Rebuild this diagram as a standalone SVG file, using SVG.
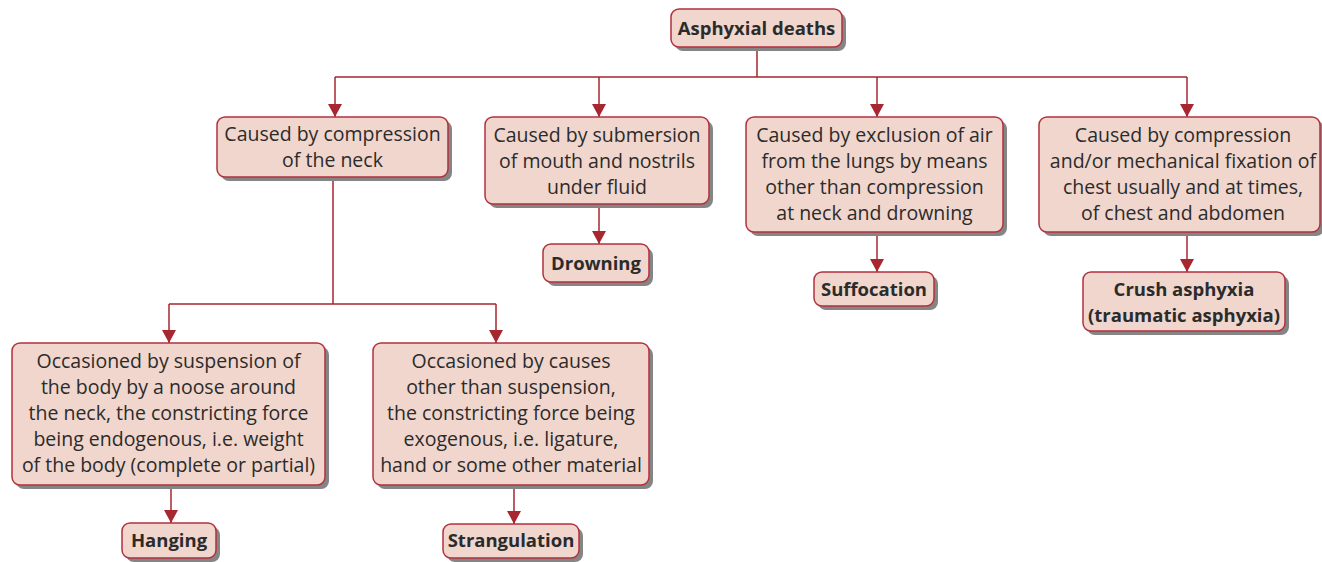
<svg xmlns="http://www.w3.org/2000/svg" width="1322" height="562" viewBox="0 0 1322 562">
<defs>
<style>
.box{fill:#f0d6cc;stroke:#b2313f;stroke-width:1.5}
.sh{fill:#858585}
.t{font-family:"Open Sans","Liberation Sans",sans-serif;font-size:19.5px;fill:#2b2b2b;text-anchor:middle}
.b{font-weight:bold;font-size:18.5px}
.c{fill:none;stroke:#a8262f;stroke-width:1.5}
</style>
<marker id="ad" markerUnits="userSpaceOnUse" markerWidth="16" markerHeight="14" viewBox="0 0 16 14" refX="13" refY="7" orient="auto">
<path d="M0,0 L13,7 L0,14 Z" fill="#a8262f"/>
</marker>
</defs>
<rect width="1322" height="562" fill="#ffffff"/>
<g id="connectors">
<path class="c" d="M757,47 V77 M335,77 H1187"/>
<path class="c" d="M335,77 V117" marker-end="url(#ad)"/>
<path class="c" d="M599,77 V117" marker-end="url(#ad)"/>
<path class="c" d="M877,77 V117" marker-end="url(#ad)"/>
<path class="c" d="M1187,77 V117" marker-end="url(#ad)"/>
<path class="c" d="M333,177 V304 M169,304 H496"/>
<path class="c" d="M169,304 V343" marker-end="url(#ad)"/>
<path class="c" d="M496,304 V343" marker-end="url(#ad)"/>
<path class="c" d="M599,204 V244" marker-end="url(#ad)"/>
<path class="c" d="M877,232 V272" marker-end="url(#ad)"/>
<path class="c" d="M1187,232 V272" marker-end="url(#ad)"/>
<path class="c" d="M171,485 V523" marker-end="url(#ad)"/>
<path class="c" d="M514,485 V524" marker-end="url(#ad)"/>
</g>
<g id="root">
<rect class="sh" x="675" y="13" width="171" height="38" rx="8"/>
<rect class="box" x="671" y="9" width="171" height="38" rx="8"/>
<text class="t b" x="756.5" y="35">Asphyxial deaths</text>
</g>
<g id="neck">
<rect class="sh" x="221" y="121" width="231" height="60" rx="8"/>
<rect class="box" x="217" y="117" width="231" height="60" rx="8"/>
<text class="t" x="332.5" y="141">Caused by compression</text>
<text class="t" x="332.5" y="167">of the neck</text>
</g>
<g id="submersion">
<rect class="sh" x="489" y="121" width="224" height="87" rx="8"/>
<rect class="box" x="485" y="117" width="224" height="87" rx="8"/>
<text class="t" x="597" y="141.5">Caused by submersion</text>
<text class="t" x="597" y="167.5">of mouth and nostrils</text>
<text class="t" x="597" y="193.5">under fluid</text>
</g>
<g id="exclusion">
<rect class="sh" x="750" y="121" width="257" height="115" rx="8"/>
<rect class="box" x="746" y="117" width="257" height="115" rx="8"/>
<text class="t" x="874.5" y="142">Caused by exclusion of air</text>
<text class="t" x="874.5" y="168">from the lungs by means</text>
<text class="t" x="874.5" y="194">other than compression</text>
<text class="t" x="874.5" y="220">at neck and drowning</text>
</g>
<g id="chest">
<rect class="sh" x="1043" y="121" width="281" height="115" rx="8"/>
<rect class="box" x="1039" y="117" width="281" height="115" rx="8"/>
<text class="t" x="1183" y="142">Caused by compression</text>
<text class="t" x="1183" y="168">and/or mechanical fixation of</text>
<text class="t" x="1183" y="194">chest usually and at times,</text>
<text class="t" x="1183" y="220">of chest and abdomen</text>
</g>
<g id="drowning">
<rect class="sh" x="547" y="248" width="106" height="38" rx="8"/>
<rect class="box" x="543" y="244" width="106" height="38" rx="8"/>
<text class="t b" x="596" y="270">Drowning</text>
</g>
<g id="suffocation">
<rect class="sh" x="818" y="276" width="120" height="34" rx="8"/>
<rect class="box" x="814" y="272" width="120" height="34" rx="8"/>
<text class="t b" x="874" y="296">Suffocation</text>
</g>
<g id="crush">
<rect class="sh" x="1087" y="276" width="202" height="59" rx="8"/>
<rect class="box" x="1083" y="272" width="202" height="59" rx="8"/>
<text class="t b" x="1184" y="296">Crush asphyxia</text>
<text class="t b" x="1184" y="322">(traumatic asphyxia)</text>
</g>
<g id="suspension">
<rect class="sh" x="16" y="347" width="313" height="142" rx="8"/>
<rect class="box" x="12" y="343" width="313" height="142" rx="8"/>
<text class="t" x="168.5" y="368">Occasioned by suspension of</text>
<text class="t" x="168.5" y="394">the body by a noose around</text>
<text class="t" x="168.5" y="420">the neck, the constricting force</text>
<text class="t" x="168.5" y="446">being endogenous, i.e. weight</text>
<text class="t" x="168.5" y="472">of the body (complete or partial)</text>
</g>
<g id="other">
<rect class="sh" x="377" y="347" width="276" height="142" rx="8"/>
<rect class="box" x="373" y="343" width="276" height="142" rx="8"/>
<text class="t" x="511" y="368">Occasioned by causes</text>
<text class="t" x="511" y="394">other than suspension,</text>
<text class="t" x="511" y="420">the constricting force being</text>
<text class="t" x="511" y="446">exogenous, i.e. ligature,</text>
<text class="t" x="511" y="472">hand or some other material</text>
</g>
<g id="hanging">
<rect class="sh" x="126" y="527" width="94" height="35" rx="8"/>
<rect class="box" x="122" y="523" width="94" height="35" rx="8"/>
<text class="t b" x="169" y="547">Hanging</text>
</g>
<g id="strangulation">
<rect class="sh" x="447" y="528" width="136" height="34" rx="8"/>
<rect class="box" x="443" y="524" width="136" height="34" rx="8"/>
<text class="t b" x="511" y="547">Strangulation</text>
</g>
</svg>
